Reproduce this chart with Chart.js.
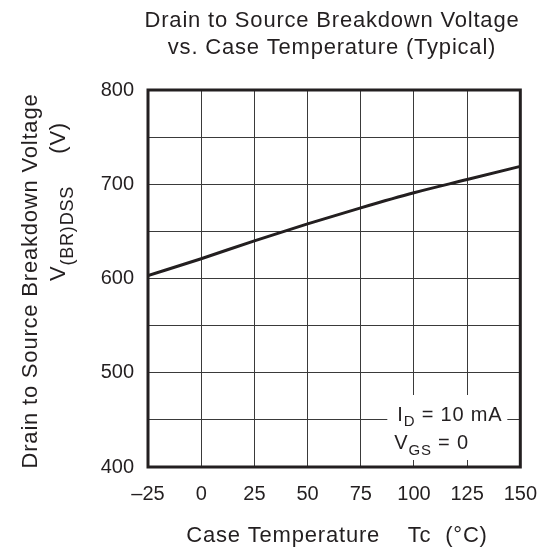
<!DOCTYPE html>
<html lang="en">
  <head>
    <title>Breakdown voltage vs case temperature</title>
    <meta charset="utf-8">
    <style>
      body { margin: 0; background: #fff; }
      #wrap { width: 552px; height: 553px; }
    </style>
  </head>
  <body>
    <div id="wrap">
      <canvas id="myChart" width="552" height="553"></canvas>
    </div>

    <script src="https://cdn.jsdelivr.net/npm/chart.js@4.4.0/dist/chart.umd.min.js"></script>
    <script>
    // values
    const temps = [-25, 0, 25, 50, 75, 100, 125, 150]
    const vbr = [603, 621, 640, 658, 675, 691, 705, 719]
    const xTicks = [-25, 0, 25, 50, 75, 100, 125, 150]
    const yTicks = [400, 500, 600, 700, 800]

    const titleLines = ['Drain to Source Breakdown Voltage', 'vs. Case Temperature (Typical)']
    const xTitle = 'Case Temperature    Tc  (\u00B0C)'
    const yTitle = 'Drain to Source Breakdown Voltage'

    const FONT = '"Liberation Sans", Arial, sans-serif'
    const INK = '#231f20'
    const SPACING = '0.8px'

    // draw a run of [text, isSub] pieces starting at x (baseline y)
    function drawRuns(ctx, runs, x, y, size, subSize, subDrop) {
      ctx.textAlign = 'left'
      ctx.textBaseline = 'alphabetic'
      for (const [txt, sub] of runs) {
        ctx.font = (sub ? subSize : size) + 'px ' + FONT
        ctx.fillText(txt, x, sub ? y + subDrop : y)
        x += ctx.measureText(txt).width
      }
    }

    const extras = {
      id: 'extras',
      beforeDatasetsDraw(chart) {
        const ctx = chart.ctx
        const a = chart.chartArea
        ctx.save()
        // white patch behind the condition note
        ctx.fillStyle = '#fff'
        ctx.fillRect(a.right - 133, a.bottom - 72, 120, 65)
        ctx.restore()
      },
      afterDraw(chart) {
        const ctx = chart.ctx
        const a = chart.chartArea
        ctx.save()
        ctx.fillStyle = INK

        // frame
        ctx.strokeStyle = INK
        ctx.lineWidth = 3
        ctx.strokeRect(a.left, a.top, a.right - a.left, a.bottom - a.top)

        ctx.letterSpacing = SPACING

        // title
        ctx.font = '22px ' + FONT
        ctx.textAlign = 'center'
        ctx.textBaseline = 'alphabetic'
        ctx.fillText(titleLines[0], 332, 26.5)
        ctx.fillText(titleLines[1], 332, 53.5)

        // x title
        ctx.fillText(xTitle, 337, 542)

        // y title, rotated
        ctx.save()
        ctx.translate(37, 281)
        ctx.rotate(-Math.PI / 2)
        ctx.textAlign = 'center'
        ctx.fillText(yTitle, 0, 0)
        ctx.restore()

        ctx.save()
        ctx.translate(65, 281)
        ctx.rotate(-Math.PI / 2)
        drawRuns(ctx, [['V', false], ['(BR)DSS', true]], 0, 0, 22, 18, 8)
        ctx.font = '22px ' + FONT
        ctx.textAlign = 'right'
        ctx.fillText('(V)', 159, 0)
        ctx.restore()

        // condition note
        drawRuns(ctx, [['I', false], ['D', true], [' = 10 mA', false]], a.right - 123, a.bottom - 46.5, 20, 15, 5.5)
        drawRuns(ctx, [['V', false], ['GS', true], [' = 0', false]], a.right - 126, a.bottom - 18, 20, 15, 6)

        ctx.restore()
      }
    }

    const ctx = document.getElementById('myChart').getContext('2d')
    const myChart = new Chart(ctx, {
      type: 'line',
      data: {
        datasets: [{
          data: temps.map((t, i) => ({ x: t, y: vbr[i] })),
          borderColor: INK,
          borderWidth: 3,
          pointRadius: 0,
          tension: 0.4,
          cubicInterpolationMode: 'monotone'
        }]
      },
      options: {
        responsive: false,
        animation: false,
        layout: { padding: { left: 0, right: 27, top: 90, bottom: 0 } },
        plugins: { legend: { display: false }, tooltip: { enabled: false }, title: { display: false } },
        scales: {
          x: {
            type: 'linear',
            min: xTicks[0],
            max: xTicks[xTicks.length - 1],
            afterFit(scale) { scale.height = 86 },
            afterBuildTicks(scale) { scale.ticks = xTicks.map(v => ({ value: v })) },
            border: { display: false },
            grid: { color: '#3a3a3a', lineWidth: 1, drawTicks: false },
            ticks: {
              padding: 15,
              color: INK,
              font: { family: FONT, size: 20 },
              callback: v => String(v).replace('-', '\u2013')
            }
          },
          y: {
            min: yTicks[0],
            max: yTicks[yTicks.length - 1],
            afterFit(scale) { scale.width = 148 },
            border: { display: false },
            grid: { color: '#3a3a3a', lineWidth: 1, drawTicks: false },
            ticks: {
              stepSize: 50,
              padding: 14,
              color: INK,
              font: { family: FONT, size: 20 },
              callback: v => yTicks.includes(v) ? String(v) : ''
            }
          }
        }
      },
      plugins: [extras]
    })
    </script>
  </body>
</html>
